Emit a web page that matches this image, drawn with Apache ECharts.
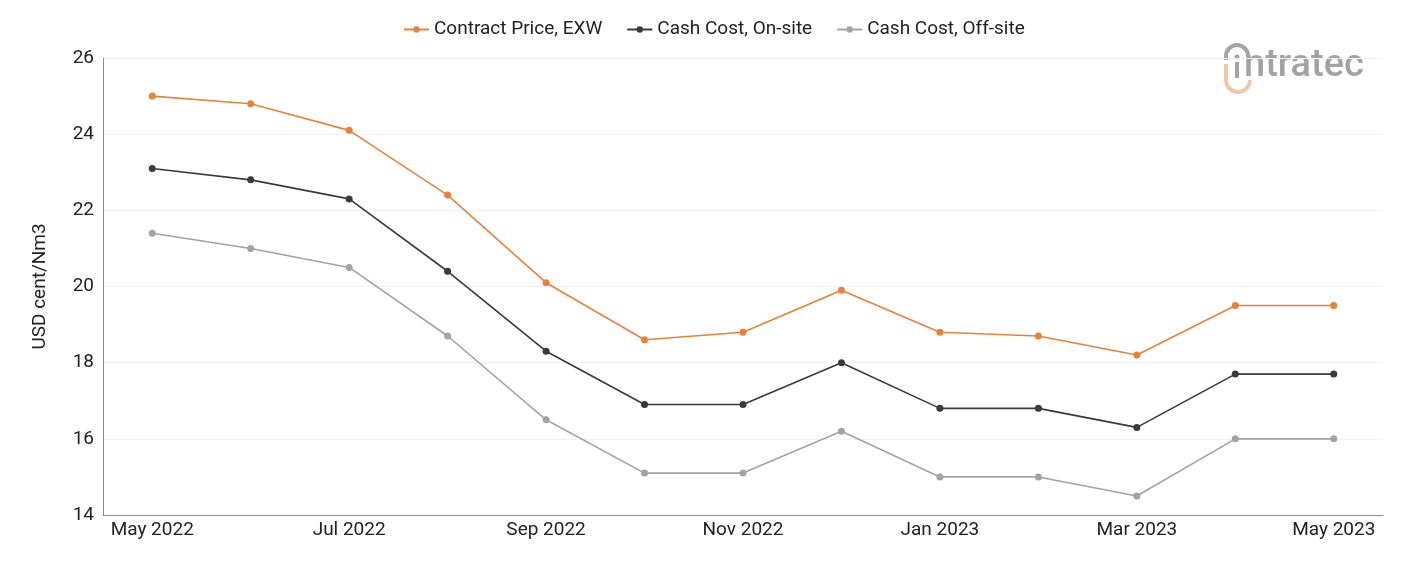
<!DOCTYPE html>
<html>
<head>
<meta charset="utf-8">
<script src="https://cdn.jsdelivr.net/npm/echarts@6/dist/echarts.min.js"></script>
<style>html,body{margin:0;padding:0;background:#fff}#c{width:1401px;height:561px}</style>
</head>
<body>
<div id="c"></div>
<script>
const categories = ['May 2022','Jun 2022','Jul 2022','Aug 2022','Sep 2022','Oct 2022','Nov 2022','Dec 2022','Jan 2023','Feb 2023','Mar 2023','Apr 2023','May 2023'];
const contractPrice = [25.0, 24.8, 24.1, 22.4, 20.1, 18.6, 18.8, 19.9, 18.8, 18.7, 18.2, 19.5, 19.5];
const cashOnSite = [23.1, 22.8, 22.3, 20.4, 18.3, 16.9, 16.9, 18.0, 16.8, 16.8, 16.3, 17.7, 17.7];
const cashOffSite = [21.4, 21.0, 20.5, 18.7, 16.5, 15.1, 15.1, 16.2, 15.0, 15.0, 14.5, 16.0, 16.0];
const yTicks = [14, 16, 18, 20, 22, 24, 26];

const chart = echarts.init(document.getElementById('c'));
const font = 'Roboto, "Noto Sans", sans-serif';
function s(name, data, color) {
  return {
    name, type: 'line', data, color,
    symbol: 'circle', symbolSize: 7,
    lineStyle: { width: 1.6, color },
    itemStyle: { color },
    emphasis: { disabled: true }
  };
}
const grey = '#a3a3a3', peach = '#e9cba9';
chart.setOption({
  animation: false,
  textStyle: { fontFamily: font },
  legend: {
    top: 15, left: 398, itemGap: 24, itemWidth: 25, itemHeight: 8,
    textStyle: { fontSize: 19, color: '#222', fontFamily: font },
    data: ['Contract Price, EXW', 'Cash Cost, On-site', 'Cash Cost, Off-site']
  },
  grid: { left: 103, right: 18, top: 58, bottom: 46 },
  xAxis: {
    type: 'category', data: categories, boundaryGap: true,
    axisLine: { lineStyle: { color: '#8c8c8c', width: 1 } },
    axisTick: { show: false },
    axisLabel: { interval: 1, fontSize: 19, color: '#222', margin: 6, fontFamily: font },
    splitLine: { show: false }
  },
  yAxis: {
    type: 'value', min: yTicks[0], max: yTicks[yTicks.length - 1], interval: 2,
    name: 'USD cent/Nm3', nameLocation: 'middle', nameGap: 53, nameRotate: 90,
    nameTextStyle: { fontSize: 19, color: '#222', fontFamily: font },
    axisLine: { show: true, lineStyle: { color: '#8c8c8c', width: 1 } },
    axisTick: { show: false },
    axisLabel: { fontSize: 19, color: '#222', margin: 9, fontFamily: font },
    splitLine: { show: true, lineStyle: { color: '#f2f2f2', width: 1 } }
  },
  graphic: [
    { type: 'text', x: 1244, y: 47, style: { text: 'ntratec', fontSize: 38, fontWeight: 500, fill: grey, fontFamily: font, verticalAlign: 'top' } },
    { type: 'arc', shape: { cx: 1237, cy: 56, r: 11, startAngle: Math.PI, endAngle: 2 * Math.PI }, style: { stroke: grey, lineWidth: 4, fill: null } },
    { type: 'rect', shape: { x: 1224, y: 56, width: 4, height: 4 }, style: { fill: grey } },
    { type: 'rect', shape: { x: 1224, y: 64, width: 4, height: 16 }, style: { fill: peach } },
    { type: 'arc', shape: { cx: 1238, cy: 80, r: 12, startAngle: 0, endAngle: Math.PI }, style: { stroke: peach, lineWidth: 4, fill: null } },
    { type: 'rect', shape: { x: 1235, y: 62, width: 4, height: 16 }, style: { fill: grey } },
    { type: 'circle', shape: { cx: 1237, cy: 57, r: 2.5 }, style: { fill: grey } }
  ],
  series: [
    s('Contract Price, EXW', contractPrice, '#e8823a'),
    s('Cash Cost, On-site', cashOnSite, '#3a3a3a'),
    s('Cash Cost, Off-site', cashOffSite, '#a3a3a3')
  ]
});
</script>
</body>
</html>
